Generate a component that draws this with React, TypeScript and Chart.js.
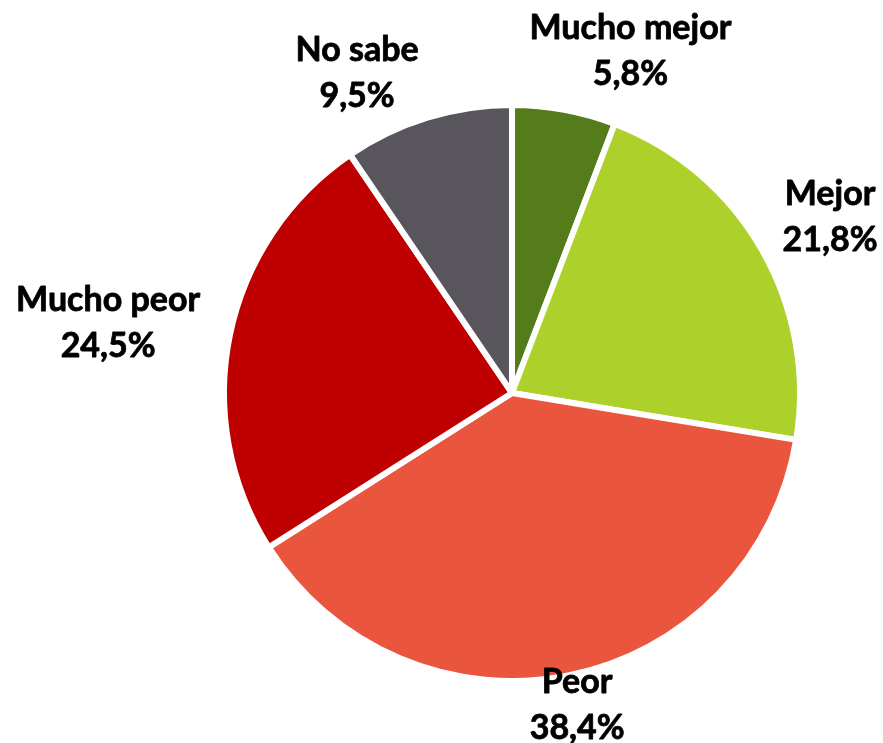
import React, { useEffect, useRef } from "react";
import { Chart, registerables } from "chart.js";

Chart.register(...registerables);

const categories = ["Mucho mejor", "Mejor", "Peor", "Mucho peor", "No sabe"];
const values = [5.8, 21.8, 38.4, 24.5, 9.5];
const valueLabels = ["5,8%", "21,8%", "38,4%", "24,5%", "9,5%"];
const colors = ["#547c1a", "#add12a", "#ea553d", "#be0000", "#58565c"];

// label placement: angle shift from slice mid-angle (deg), distance as fraction of radius
const labelPlacement = [
  { shift: 8.6, dist: 1.274 },
  { shift: 0.8, dist: 1.277 },
  { shift: -0.3, dist: 1.116 },
  { shift: -1.7, dist: 1.439 },
  { shift: -8.7, dist: 1.249 },
];

const labelPlugin = {
  id: "outsideLabels",
  afterDraw(chart: any) {
    const ctx = chart.ctx;
    const meta = chart.getDatasetMeta(0);
    ctx.save();
    ctx.fillStyle = "#000";
    ctx.strokeStyle = "#000";
    ctx.lineWidth = 0.8;
    ctx.lineJoin = "round";
    ctx.font = "bold 34px Lato";
    ctx.textAlign = "center";
    ctx.textBaseline = "middle";
    meta.data.forEach((arc: any, i: number) => {
      const p = arc.getProps(["x", "y", "startAngle", "endAngle", "outerRadius"], true);
      const r = p.outerRadius - 3;
      const mid = (p.startAngle + p.endAngle) / 2 + (labelPlacement[i].shift * Math.PI) / 180;
      const d = r * labelPlacement[i].dist;
      const cx = p.x + Math.cos(mid) * d;
      const cy = p.y + Math.sin(mid) * d;
      ctx.fillText(categories[i], cx, cy - 22);
      ctx.strokeText(categories[i], cx, cy - 22);
      ctx.fillText(valueLabels[i], cx, cy + 24);
      ctx.strokeText(valueLabels[i], cx, cy + 24);
    });
    ctx.restore();
  },
};

export default function App() {
  const ref = useRef<HTMLCanvasElement>(null);
  useEffect(() => {
    if (!ref.current) return;
    const chart = new Chart(ref.current, {
      type: "pie",
      data: {
        labels: categories,
        datasets: [
          {
            data: values,
            backgroundColor: colors,
            borderColor: "#ffffff",
            borderWidth: 6,
          },
        ],
      },
      options: {
        animation: false,
        responsive: false,
        layout: { padding: { left: 221, right: 80, top: 102, bottom: 59 } },
        plugins: {
          legend: { display: false },
          tooltip: { enabled: false },
        },
      },
      plugins: [labelPlugin],
    });
    return () => chart.destroy();
  }, []);
  return (
    <div style={{ position: "fixed", left: 0, top: 0, width: 883, height: 743, background: "#fff" }}>
      <canvas ref={ref} width={883} height={743} style={{ width: 883, height: 743 }} />
    </div>
  );
}
